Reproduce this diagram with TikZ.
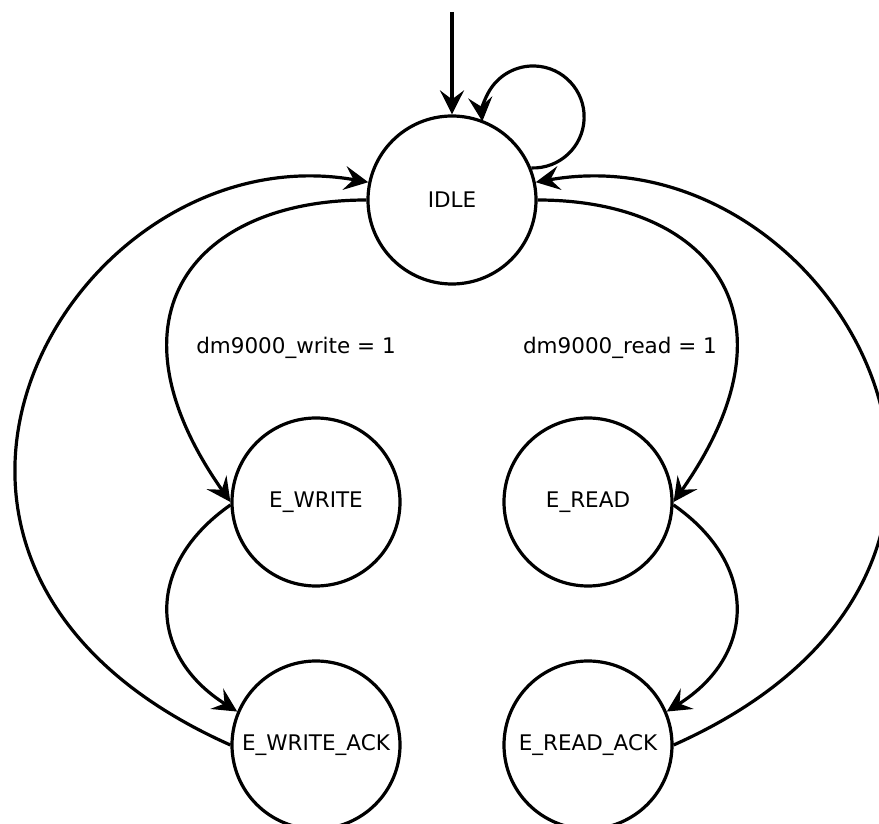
\documentclass[tikz,border=0pt]{standalone}
\usepackage{fontspec}
\setmainfont{DejaVu Sans}
\usetikzlibrary{arrows.meta}

\begin{document}
\begin{tikzpicture}[x=1pt,y=1pt,
  st/.style={draw,circle,line width=3.2pt,minimum size=168pt,inner sep=0pt,font=\fontsize{21.5}{26}\selectfont},
  lb/.style={font=\fontsize{21.5}{26}\selectfont,anchor=base,inner sep=0pt},
  arr/.style={line width=3.2pt,-{Stealth[length=24pt,width=24pt,inset=9pt]}}]
\useasboundingbox (0,0) rectangle (879,823);
\node[st] (idle) at (452,623) {IDLE};
\node[st] (ewrite) at (316,321) {E\_WRITE};
\node[st] (eread) at (588,321) {E\_READ};
\node[st] (ewack) at (316,78) {E\_WRITE\_ACK};
\node[st] (erack) at (588,78) {E\_READ\_ACK};
\coordinate (init) at (452,811);
\node[lb] (wcond) at (296,469) {dm9000\_write = 1};
\node[lb] (rcond) at (620,469) {dm9000\_read = 1};
\draw[arr] (init) -- (idle);
\draw[arr] (idle.22) arc[start angle=-92,end angle=185,radius=51pt];
\draw[arr] (idle.west) .. controls +(-170,0) and +(-132,188) .. (ewrite.west);
\draw[arr] (idle.east) .. controls +(170,0) and +(132,188) .. (eread.east);
\draw[arr] (ewrite.182) .. controls +(-86,-60) and +(-89,56) .. (ewack.157);
\draw[arr] (eread.-2) .. controls +(86,-60) and +(89,56) .. (erack.23);
\draw[arr] (ewack.west) .. controls +(-411,183) and +(-295,52) .. (idle.168);
\draw[arr] (erack.east) .. controls +(411,183) and +(295,52) .. (idle.12);
\end{tikzpicture}
\end{document}
